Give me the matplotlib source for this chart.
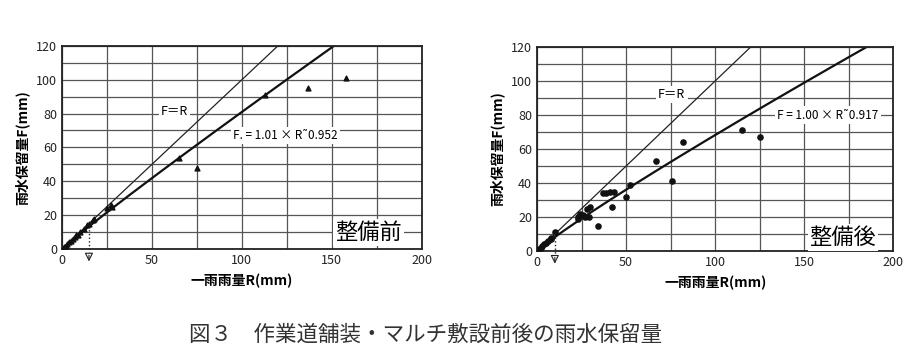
import numpy as np
import matplotlib
matplotlib.use("Agg")
import matplotlib.pyplot as plt

plt.rcParams['font.family'] = ['Noto Sans CJK JP', 'DejaVu Sans']

# 整備前 (triangles)
before_R = [1, 2, 3, 4, 5, 6, 7, 8, 9, 10, 12, 14, 15, 17, 18, 25, 27, 28, 65, 75, 113, 137, 158]
before_F = [1, 2, 3, 4, 5, 6, 7, 8, 8, 10, 12, 14, 15, 17, 18, 24, 26, 25, 54, 48, 91, 95, 101]
# 整備後 (circles)
after_R = [1, 2, 3, 4, 5, 6, 8, 8, 10, 23, 23, 24, 26, 27, 28, 29, 30, 34, 37, 39, 41, 42, 43,
           50, 52, 67, 76, 82, 115, 125]
after_F = [1, 2, 3, 4, 5, 6, 7, 8, 11, 19, 20, 22, 21, 20, 25, 20, 26, 15, 34, 34, 35, 26, 35,
           32, 39, 53, 41, 64, 71, 67]

fits = [(1.01, 0.952), (1.00, 0.917)]
fit_labels = ['F. = 1.01 × R˜0.952', 'F = 1.00 × R˜0.917']
panel_labels = ['整備前', '整備後']
arrow_x = [15, 10]

fig = plt.figure(figsize=(9.18, 3.64), dpi=100)
ax1 = fig.add_axes([0.0675, 0.316, 0.392, 0.558])
ax2 = fig.add_axes([0.585, 0.310, 0.388, 0.561])

panels = [
    (ax1, before_R, before_F, '^', (55, 81), (95, 67), (152, 10)),
    (ax2, after_R, after_F, 'o', (68, 92), (135, 80), (153, 8)),
]

for i, (ax, R, F, mk, frpos, fitpos, lblpos) in enumerate(panels):
    ax.set_xlim(0, 200)
    ax.set_ylim(0, 120)
    ax.set_xticks(np.arange(0, 201, 50))
    ax.set_xticks(np.arange(0, 201, 25), minor=True)
    ax.set_yticks(np.arange(0, 121, 20))
    ax.set_yticks(np.arange(0, 121, 10), minor=True)
    ax.grid(which='both', color='#555555', linewidth=0.9)
    ax.tick_params(which='both', length=0, labelsize=9, colors='#222222')
    for s in ax.spines.values():
        s.set_linewidth(1.3)
        s.set_color('#222222')
    ax.set_axisbelow(True)

    # F = R line
    ax.plot([0, 120], [0, 120], color='#222222', lw=0.9)
    # fitted curve
    a, b = fits[i]
    rmax = (120 / a) ** (1 / b)
    rr = np.linspace(0, rmax, 200)
    ax.plot(rr, a * rr ** b, color='#111111', lw=1.6)

    ax.scatter(R, F, marker=mk, s=14 if mk == 'o' else 12, color='#111111', zorder=3)

    bb = dict(facecolor='white', edgecolor='none', pad=1.5)
    ax.text(frpos[0], frpos[1], 'F＝R', fontsize=9, va='center', bbox=bb)
    ax.text(fitpos[0], fitpos[1], fit_labels[i], fontsize=8.5, va='center', bbox=bb)
    ax.text(lblpos[0], lblpos[1], panel_labels[i], fontsize=16, va='center', bbox=bb)

    ax.set_xlabel('一雨雨量R(mm)', fontsize=10, fontweight='bold', labelpad=5)
    ax.set_ylabel('雨水保留量F(mm)', fontsize=10, fontweight='bold', labelpad=5)

    ax_x = arrow_x[i]
    ax.plot([ax_x, ax_x], [a * ax_x ** b, -2], ls=':', color='#222222', lw=1.0, clip_on=False)
    ax.annotate('', xy=(ax_x, -9), xytext=(ax_x, -2),
                arrowprops=dict(arrowstyle='-|>,head_width=0.25,head_length=0.5',
                                color='#222222', lw=0.8, fill=False),
                annotation_clip=False)

fig.text(0.464, 0.08, '図３　作業道舗装・マルチ敷設前後の雨水保留量',
         fontsize=15.5, ha='center', va='center', color='#333333')

fig.savefig('out.png', dpi=100)
